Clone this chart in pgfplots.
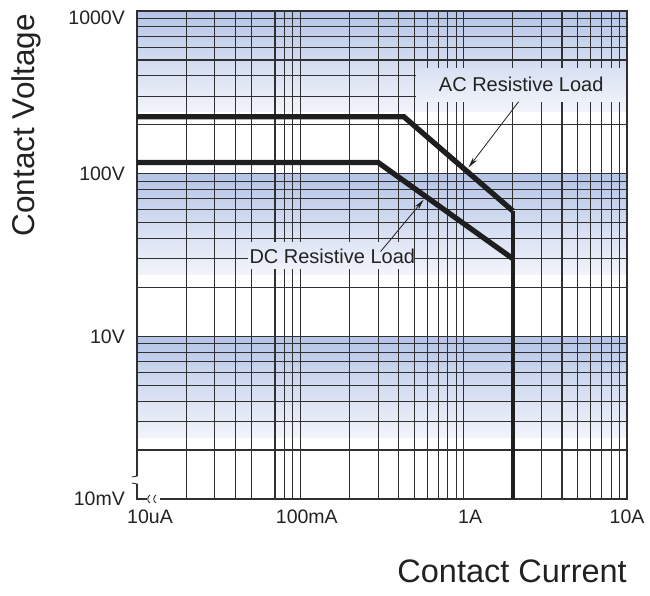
\documentclass[border=0pt]{standalone}
\usepackage{fontspec}
\setmainfont{Liberation Sans}
\usepackage{pgfplots}
\pgfplotsset{compat=1.18}
\usetikzlibrary{arrows.meta}
\definecolor{txt}{HTML}{222222}
\definecolor{gridc}{HTML}{303030}
\definecolor{curve}{HTML}{1E1E1E}
\definecolor{bandtop}{RGB}{181,196,231}
\definecolor{bandbot}{RGB}{242,244,250}
\definecolor{acboxtop}{RGB}{217,225,243}
\definecolor{acboxbot}{RGB}{238,241,249}
\definecolor{dcboxtop}{RGB}{224,230,245}
\definecolor{dcboxbot}{RGB}{240,242,250}

\begin{document}
\begin{tikzpicture}
\begin{axis}[
  set layers,
  xmode=log, ymode=log,
  scale only axis, width=490pt, height=488pt,
  xmin=0.01, xmax=10, ymin=1, ymax=1000,
  xtick={0.01,0.1,1,10},
  xticklabels={\hspace*{26pt}10uA,\hspace*{13pt}100mA,\hspace*{13pt}1A,10A},
  ytick={1,10,100,1000},
  yticklabels={10mV,10V,100V,\raisebox{-7pt}[14pt][0pt]{1000V}},
  minor xtick={0.02,0.03,0.04,0.05,0.07,0.08,0.09,0.2,0.3,0.4,0.5,0.6,0.7,0.8,0.9,2,3,4,5,6,7,8,9},
  minor ytick={2,3,4,5,6,7,8,9,20,30,40,50,60,70,80,90,200,300,400,500,600,700,800,900},
  major tick length=0pt, minor tick length=0pt,
  grid=both,
  major grid style={gridc, line width=1.1pt},
  minor grid style={gridc, line width=1.1pt},
  axis line style={gridc, line width=1.1pt},
  tick label style={font=\fontsize{19.5}{20}\selectfont, text=txt},
  xticklabel style={anchor=north, inner sep=0pt, yshift=-11pt},
  yticklabel style={anchor=east, inner sep=0pt, xshift=-12pt},
  xlabel={Contact Current}, ylabel={Contact Voltage},
  label style={text=txt, inner sep=0pt},
  xlabel style={font=\fontsize{32.5}{33}\selectfont, at={(axis description cs:1,-0.1721)}, anchor=base east},
  ylabel style={font=\fontsize{31.5}{32}\selectfont, at={(axis description cs:-0.2265,0.766)}, anchor=center},
]
\begin{pgfonlayer}{axis background}
\shade[top color=bandtop, bottom color=bandbot] (axis cs:0.01,1000) rectangle (axis cs:10,240);
\shade[top color=bandtop, bottom color=bandbot] (axis cs:0.01,100) rectangle (axis cs:10,24);
\shade[top color=bandtop, bottom color=bandbot] (axis cs:0.01,10) rectangle (axis cs:10,2.4);
\end{pgfonlayer}

% label boxes
\shade[top color=acboxtop, bottom color=acboxbot] (axis cs:0.515,441) rectangle (axis cs:9.85,277);
\shade[top color=dcboxtop, bottom color=dcboxbot] (axis cs:0.048,37.7) rectangle (axis cs:0.493,26.1);

% AC resistive load
\addplot[curve, line width=5.3pt, line join=miter] coordinates {(0.01,224) (0.43,224) (2,59)};
% DC resistive load
\addplot[curve, line width=5.3pt, line join=miter] coordinates {(0.01,117) (0.3,117) (2,30)};
% common current limit
\addplot[curve, line width=4pt] coordinates {(2,59) (2,1)};

\node[font=\fontsize{20}{20}\selectfont, text=txt] at (axis cs:2.25,352) {AC Resistive Load};
\node[font=\fontsize{20}{20}\selectfont, text=txt] at (axis cs:0.157,31.2) {DC Resistive Load};

\draw[txt, line width=0.8pt, -{Stealth[length=11pt,width=5pt]}] (axis cs:2.17,277) -- (axis cs:1.07,109);
\draw[txt, line width=0.8pt, -{Stealth[length=11pt,width=5pt]}] (axis cs:0.31,33.2) -- (axis cs:0.569,69.2);
\end{axis}

% axis break marks
\fill[white] (-3pt,15pt) rectangle (3pt,23pt);
\draw[gridc, line width=0.9pt] (0.5pt,23pt) .. controls (-1pt,21.5pt) and (-3pt,23.5pt) .. (-5pt,22pt);
\draw[gridc, line width=0.9pt] (0.5pt,15pt) .. controls (-1pt,16.5pt) and (-3pt,14.5pt) .. (-5pt,16pt);
\fill[white] (10pt,-3pt) rectangle (23pt,3pt);
\draw[gridc, line width=0.9pt] (13pt,4pt) .. controls (10pt,2pt) and (10pt,-2pt) .. (13pt,-4pt);
\draw[gridc, line width=0.9pt] (19pt,4pt) .. controls (16pt,2pt) and (16pt,-2pt) .. (19pt,-4pt);

\pgfresetboundingbox
\path[use as bounding box] (-137pt,-96pt) rectangle (513pt,499pt);
\end{tikzpicture}
\end{document}
